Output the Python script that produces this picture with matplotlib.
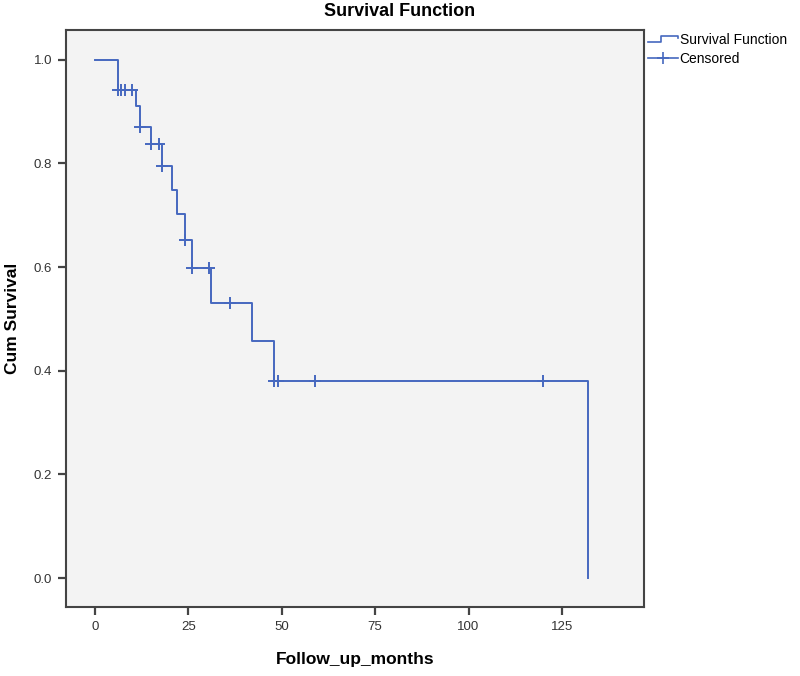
"""Kaplan-Meier style survival function (SPSS look) with censored marks."""
import matplotlib
matplotlib.use("Agg")
import matplotlib.pyplot as plt
from matplotlib.legend_handler import HandlerBase
from matplotlib.lines import Line2D

plt.rcParams["font.family"] = ["Liberation Sans", "DejaVu Sans"]

# event times (months) and survival after each step
event_t = [0, 6, 11, 12, 15, 18, 20.5, 22, 24, 26, 31, 42, 48, 132]
event_s = [1.0, 0.941, 0.910, 0.871, 0.838, 0.796, 0.748, 0.703, 0.653, 0.598, 0.531, 0.457, 0.381, 0.0]

# censored observations
cens_t = [6, 7, 8, 10, 12, 15, 17, 18, 24, 26, 30.5, 36, 48, 49, 59, 120]
cens_s = [0.941, 0.941, 0.941, 0.941, 0.871, 0.838, 0.838, 0.796, 0.653, 0.598, 0.598,
          0.531, 0.381, 0.381, 0.381, 0.381]

LINE = "#4668bf"
FRAME = "#444444"


class StepHandler(HandlerBase):
    # little step glyph like the SPSS legend
    def create_artists(self, legend, orig_handle, xdescent, ydescent, width, height, fontsize, trans):
        x0, x1 = -xdescent, -xdescent + width
        yl, yh = -ydescent + height * 0.2, -ydescent + height * 0.85
        xm = x0 + width * 0.45
        ln = Line2D([x0, xm, xm, x1, x1], [yl, yl, yh, yh, yl + (yh - yl) * 0.6],
                    color=LINE, lw=1.2, transform=trans)
        return [ln]


fig = plt.figure(figsize=(8, 6.76), dpi=100, facecolor="white")
ax = fig.add_axes([0.0825, 0.102, 0.7225, 0.854])
ax.set_facecolor("#f3f3f3")

ax.step(event_t, event_s, where="post", color=LINE, lw=1.4)
ax.plot(cens_t, cens_s, ls="none", marker="+", ms=8, mew=1.4, color=LINE)

ax.set_xlim(-7.8, 147)
ax.set_ylim(-0.056, 1.058)
ax.set_xticks([0, 25, 50, 75, 100, 125])
ax.set_yticks([0.0, 0.2, 0.4, 0.6, 0.8, 1.0])
ax.set_yticklabels([f"{v:.1f}" for v in ax.get_yticks()])

for sp in ax.spines.values():
    sp.set_color(FRAME)
    sp.set_linewidth(1.5)
ax.tick_params(direction="out", length=6, width=1.6, color=FRAME, pad=4,
               labelsize=9.5, labelcolor="#333333")

ax.set_xlabel("Follow_up_months", fontsize=12.5, fontweight="bold", labelpad=14)
ax.set_ylabel("Cum Survival", fontsize=12.5, fontweight="bold", labelpad=10)
fig.suptitle("Survival Function", fontsize=13, fontweight="bold", x=0.5, y=0.995)

h_surv = object()
h_cens = Line2D([], [], color=LINE, lw=1.2, marker="+", ms=8, mew=1.2)
fig.legend([h_surv, h_cens], ["Survival Function", "Censored"],
           handler_map={object: StepHandler()},
           loc="upper left", bbox_to_anchor=(0.806, 0.955), frameon=False,
           fontsize=10, handlelength=2.2, handletextpad=0.1, labelspacing=0.35,
           borderaxespad=0.0, borderpad=0.2)

fig.savefig("out.png", dpi=100, facecolor="white")
